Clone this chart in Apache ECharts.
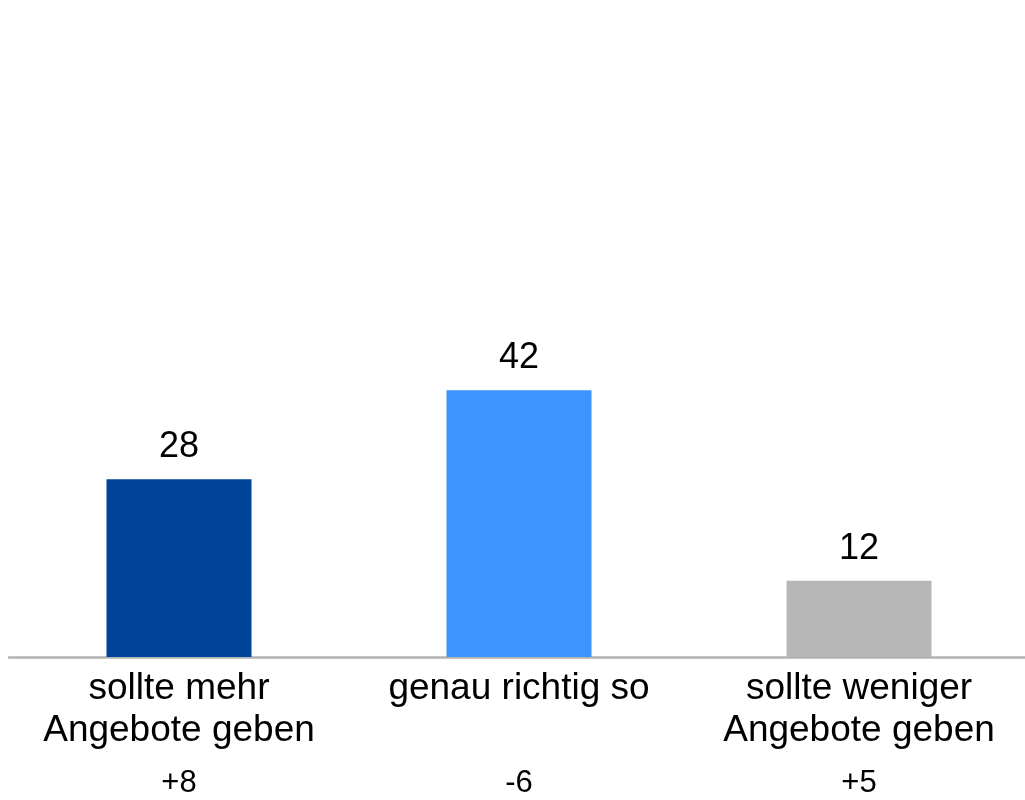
<!DOCTYPE html>
<html>
<head>
<meta charset="utf-8">
<script src="https://cdn.jsdelivr.net/npm/echarts@6/dist/echarts.min.js"></script>
<style>
html,body{margin:0;padding:0;background:#fff;overflow:hidden;}
#chart{width:1032px;height:800px;}
</style>
</head>
<body>
<div id="chart"></div>
<script>
const categories = ['sollte mehr\nAngebote geben', 'genau richtig so', 'sollte weniger\nAngebote geben'];
const values = [28, 42, 12];
const changes = ['+8', '-6', '+5'];
const colors = ['#00449a', '#3d94ff', '#b7b7b7'];

const chart = echarts.init(document.getElementById('chart'), null, {renderer: 'canvas'});
const font = '"Liberation Sans", Arial, sans-serif';
chart.setOption({
  animation: false,
  grid: {left: 9, right: 3, top: 22, bottom: 143, containLabel: false},
  xAxis: [{
    type: 'category',
    data: categories,
    axisLine: {lineStyle: {color: '#b3b3b3', width: 2.5}},
    axisTick: {show: false},
    axisLabel: {fontFamily: font, fontSize: 37, lineHeight: 42, color: '#000', margin: 11, interval: 0}
  }, {
    type: 'category',
    position: 'bottom',
    offset: 111,
    data: changes,
    axisLine: {show: false},
    axisTick: {show: false},
    axisLabel: {fontFamily: font, fontSize: 31, color: '#000', margin: 0, interval: 0}
  }],
  yAxis: {type: 'value', min: 0, max: 100, show: false, splitLine: {show: false}},
  series: [{
    type: 'bar',
    data: values.map((v, i) => ({value: v, itemStyle: {color: colors[i]}})),
    barWidth: 145,
    label: {show: true, position: 'top', distance: 14, fontFamily: font, fontSize: 36, color: '#000'}
  }]
});
</script>
</body>
</html>
